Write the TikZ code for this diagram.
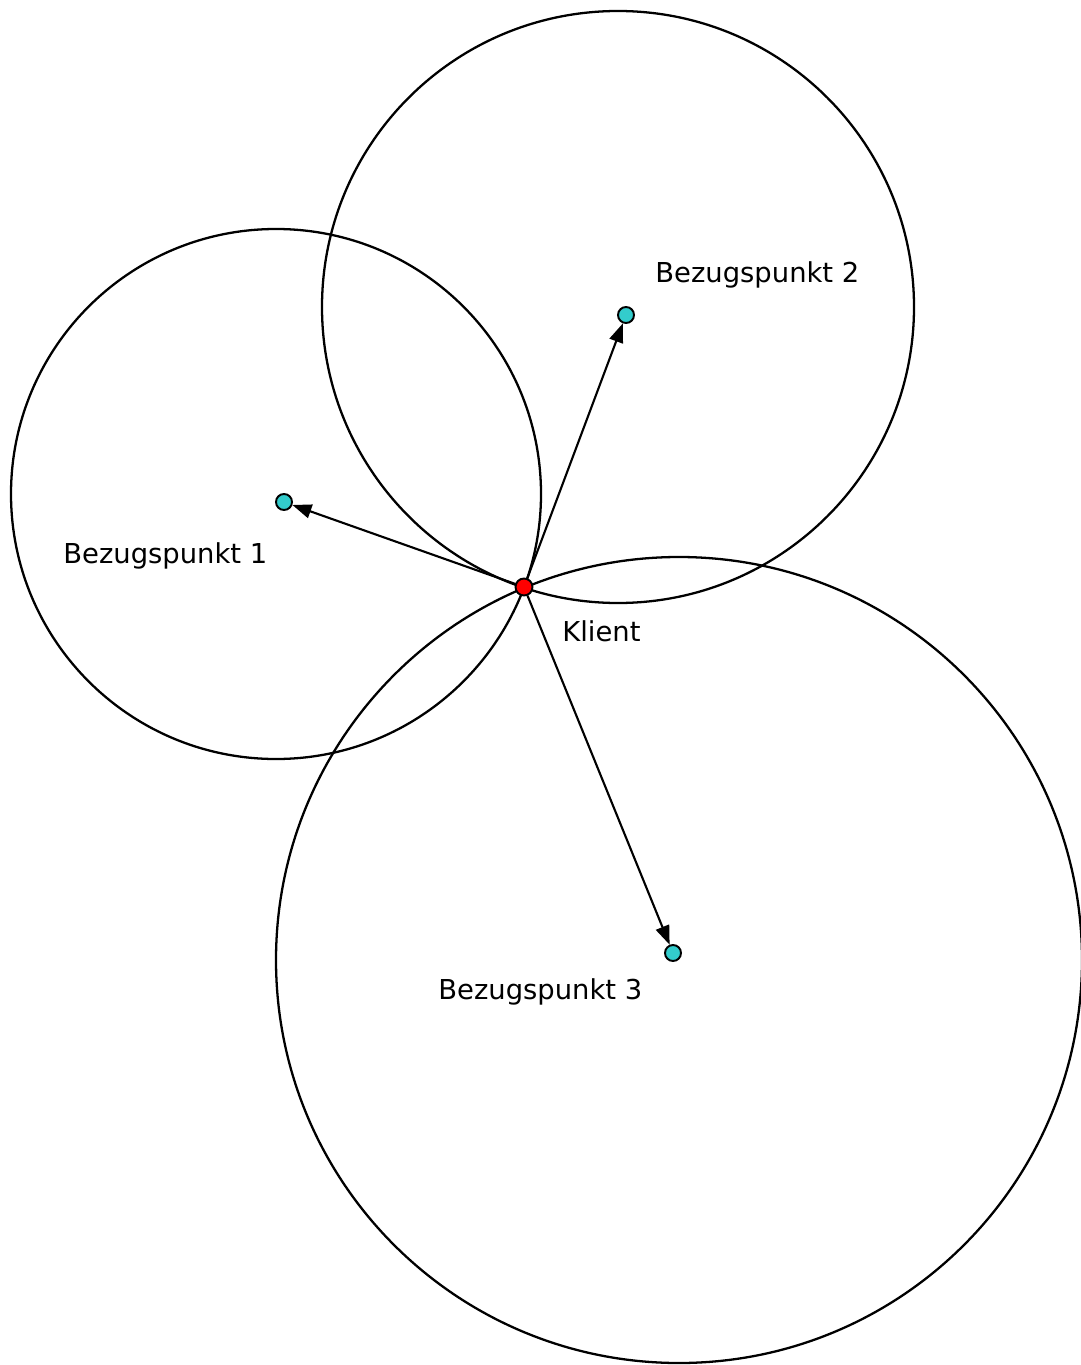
\documentclass[tikz,border=0pt]{standalone}
\usepackage{fontspec}
\setmainfont{DejaVu Sans}
\usepackage{tikz}
\usetikzlibrary{arrows.meta}

\definecolor{refcyan}{RGB}{51,204,204}

\tikzset{
    ref/.style={circle, draw, line width=1.1pt, fill=refcyan, inner sep=0pt, minimum size=0.32cm},
    client/.style={circle, draw, line width=1.1pt, fill=red, inner sep=0pt, minimum size=0.34cm},
    lbl/.style={anchor=base west, inner sep=0pt, font=\fontsize{15.6}{18}\selectfont},
    ring/.style={line width=1.3pt},
}

\begin{document}
\begin{tikzpicture}[x=0.02cm, y=-0.02cm, >={Triangle[length=0.38cm, width=0.28cm]}]
    \useasboundingbox (0,0) rectangle (1081,1365);
    % circles
    \draw[ring] (276,494) circle (265);
    \draw[ring] (618,307) circle (296);
    \draw[ring] (679,960) circle (403);

    \node[ref](b1)    at (284,502) {};
    \node[ref](b2)    at (626,315) {};
    \node[ref](b3)    at (673,953) {};
    \node[client](k)  at (524,587) {};

    \path
        (k)
            edge [->, line width=1.2pt] (b1)
            edge [->, line width=1.2pt] (b2)
            edge [->, line width=1.2pt] (b3)
        ;

    \node[lbl](l1) at (63,563)  {Bezugspunkt 1};
    \node[lbl](l2) at (655,282) {Bezugspunkt 2};
    \node[lbl](l3) at (438,999) {Bezugspunkt 3};
    \node[lbl](lk) at (562,641) {Klient};
\end{tikzpicture}
\end{document}
